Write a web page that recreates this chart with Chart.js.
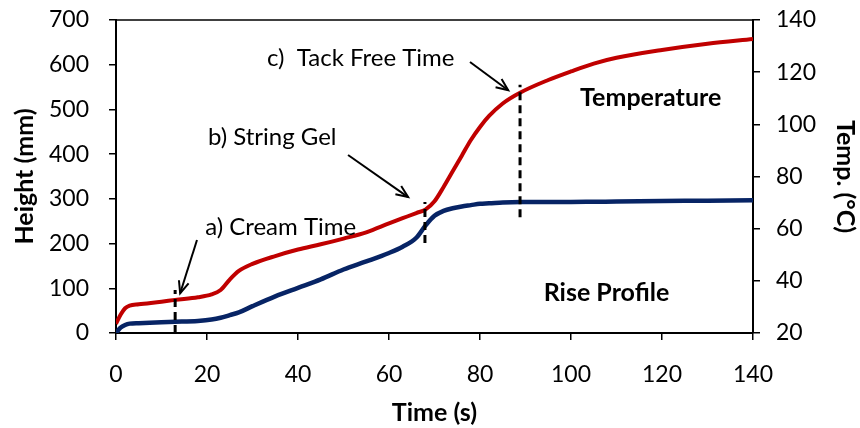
<!doctype html>
<html>
<head>
<meta charset="utf-8">
<title>Rise profile and temperature</title>
<script src="https://cdn.jsdelivr.net/npm/chart.js@4.4.0/dist/chart.umd.min.js"></script>
<style>
    html, body { margin: 0; padding: 0; background: #fff; }
    #wrap { width: 860px; height: 428px; }
</style>
</head>
<body>
<div id="wrap"><canvas id="canvas"></canvas></div>
<script>
    // time samples (s) shared by both curves
    var timeS = [0, 1, 2, 3, 5, 10, 13, 18, 21, 23, 25, 27, 30, 35, 40, 45, 50, 55, 60, 63, 66, 68,
        70, 72, 74, 76, 78, 80, 82, 85, 89, 95, 100, 105, 110, 120, 130, 140];
    // temperature (deg C), right axis
    var tempC = [23.5, 27, 29.5, 30.5, 31, 32, 32.7, 33.7, 34.8, 36.5, 40.5, 43.8, 46.5, 49.5, 52, 54, 56.2, 58.6, 62, 64, 66, 67.3,
        70.5, 76, 82, 88, 94, 99, 103.2, 108, 112.3, 117, 120.3, 123.3, 125.5, 128.5, 130.9, 132.7];
    // foam height (mm), left axis
    var heightMm = [0, 12, 18, 21, 22, 24, 25, 27, 30, 34, 40, 46, 60, 82, 101, 120, 142, 160, 179, 193, 213, 240,
        262, 273, 279, 283, 286, 289, 290, 292, 293, 293, 293, 293.5, 294, 295, 296, 297];

    var xTicks = [0, 20, 40, 60, 80, 100, 120, 140];
    var heightTicks = [0, 100, 200, 300, 400, 500, 600, 700];
    var tempTicks = [20, 40, 60, 80, 100, 120, 140];

    // annotation marks, in (time, height) units
    var dashes = [
        { t: 13, h0: 0, h1: 96 },
        { t: 67.9, h0: 201, h1: 293 },
        { t: 88.8, h0: 259, h1: 555 }
    ];
    var arrows = [
        { t0: 17.8, h0: 208, t1: 14.1, h1: 89 },
        { t0: 51, h0: 398, t1: 64.2, h1: 304 },
        { t0: 77.8, h0: 606, t1: 86.2, h1: 543 }
    ];
    var notes = [
        { text: 'a) Cream Time', t: 19.6, h: 237, bold: false },
        { text: 'b) String Gel', t: 20.2, h: 438, bold: false },
        { text: 'c)  Tack Free Time', t: 33.2, h: 615, bold: false },
        { text: 'Temperature', t: 102, h: 526, bold: true },
        { text: 'Rise Profile', t: 94, h: 89, bold: true }
    ];

    var FONT = 'Lato, "Open Sans", sans-serif';

    function pts(ys) {
        var out = [];
        for (var i = 0; i < timeS.length; i++) out.push({ x: timeS[i], y: ys[i] });
        return out;
    }

    var notesPlugin = {
        id: 'notes',
        afterDatasetsDraw: function (chart) {
            var ctx = chart.ctx, xs = chart.scales.x, ys = chart.scales.y, a = chart.chartArea;
            ctx.save();
            ctx.strokeStyle = '#000';
            ctx.lineWidth = 1.5;
            ctx.beginPath();
            ctx.moveTo(a.left, a.top);
            ctx.lineTo(a.right, a.top);
            ctx.stroke();

            ctx.lineWidth = 3;
            ctx.setLineDash([8, 5]);
            dashes.forEach(function (d) {
                var x = xs.getPixelForValue(d.t);
                ctx.beginPath();
                ctx.moveTo(x, ys.getPixelForValue(d.h0));
                ctx.lineTo(x, ys.getPixelForValue(d.h1));
                ctx.stroke();
            });
            ctx.setLineDash([]);

            ctx.lineWidth = 2;
            arrows.forEach(function (r) {
                var x0 = xs.getPixelForValue(r.t0), y0 = ys.getPixelForValue(r.h0);
                var x1 = xs.getPixelForValue(r.t1), y1 = ys.getPixelForValue(r.h1);
                var ang = Math.atan2(y1 - y0, x1 - x0);
                ctx.beginPath();
                ctx.moveTo(x0, y0);
                ctx.lineTo(x1, y1);
                ctx.stroke();
                ctx.beginPath();
                ctx.moveTo(x1 - 13 * Math.cos(ang - 0.4), y1 - 13 * Math.sin(ang - 0.4));
                ctx.lineTo(x1, y1);
                ctx.lineTo(x1 - 13 * Math.cos(ang + 0.4), y1 - 13 * Math.sin(ang + 0.4));
                ctx.stroke();
            });

            ctx.fillStyle = '#000';
            ctx.textBaseline = 'middle';
            ctx.textAlign = 'left';
            notes.forEach(function (n) {
                ctx.font = (n.bold ? 'bold 25px ' : '24px ') + FONT;
                ctx.fillText(n.text, xs.getPixelForValue(n.t), ys.getPixelForValue(n.h));
            });
            ctx.restore();
        }
    };

    function fixed(list) {
        return function (scale) {
            scale.ticks = list.map(function (v) { return { value: v }; });
        };
    }

    function sideWidth(w) {
        return function (s) {
            s.width = w;
            s.paddingTop = 0;
            s.paddingBottom = 0;
        };
    }

    new Chart(document.getElementById('canvas'), {
        type: 'line',
        data: {
            datasets: [{
                label: 'Temperature',
                data: pts(tempC),
                yAxisID: 'y1',
                borderColor: '#C00000',
                borderWidth: 4,
                pointRadius: 0,
                cubicInterpolationMode: 'monotone'
            }, {
                label: 'Rise Profile',
                data: pts(heightMm),
                yAxisID: 'y',
                borderColor: '#072465',
                borderWidth: 4.5,
                pointRadius: 0,
                cubicInterpolationMode: 'monotone'
            }]
        },
        options: {
            responsive: true,
            maintainAspectRatio: false,
            animation: false,
            layout: { padding: { top: 20 } },
            plugins: { legend: { display: false }, tooltip: { enabled: false } },
            scales: {
                x: {
                    type: 'linear', min: 0, max: 140,
                    afterBuildTicks: fixed(xTicks),
                    afterFit: function (s) { s.height = 95; s.paddingLeft = 0; s.paddingRight = 0; },
                    grid: { drawOnChartArea: false, color: '#000', tickLength: 7, lineWidth: 1.5 },
                    border: { color: '#000', width: 2 },
                    ticks: { color: '#000', padding: 21, font: { family: FONT, size: 23 } },
                    title: { display: true, text: 'Time (s)', color: '#000', padding: { top: 0, bottom: 0 }, font: { family: FONT, size: 25, weight: 'bold' } }
                },
                y: {
                    position: 'left', min: 0, max: 700,
                    afterBuildTicks: fixed(heightTicks),
                    afterFit: sideWidth(116),
                    grid: { drawOnChartArea: false, color: '#000', tickLength: 7, lineWidth: 1.5 },
                    border: { color: '#000', width: 2 },
                    ticks: { color: '#000', padding: 20, font: { family: FONT, size: 23 } },
                    title: { display: true, text: 'Height (mm)', color: '#000', padding: { top: 10, bottom: 0 }, font: { family: FONT, size: 25, weight: 'bold' } }
                },
                y1: {
                    position: 'right', min: 20, max: 140,
                    afterBuildTicks: fixed(tempTicks),
                    afterFit: sideWidth(107),
                    grid: { drawOnChartArea: false, color: '#000', tickLength: 7, lineWidth: 1.5 },
                    border: { color: '#000', width: 2 },
                    ticks: { color: '#000', padding: 16, font: { family: FONT, size: 23 } },
                    title: { display: true, text: 'Temp. (\u00B0C)', color: '#000', padding: { top: 0, bottom: 0 }, font: { family: FONT, size: 25, weight: 'bold' } }
                }
            }
        },
        plugins: [notesPlugin]
    });
</script>
</body>
</html>
